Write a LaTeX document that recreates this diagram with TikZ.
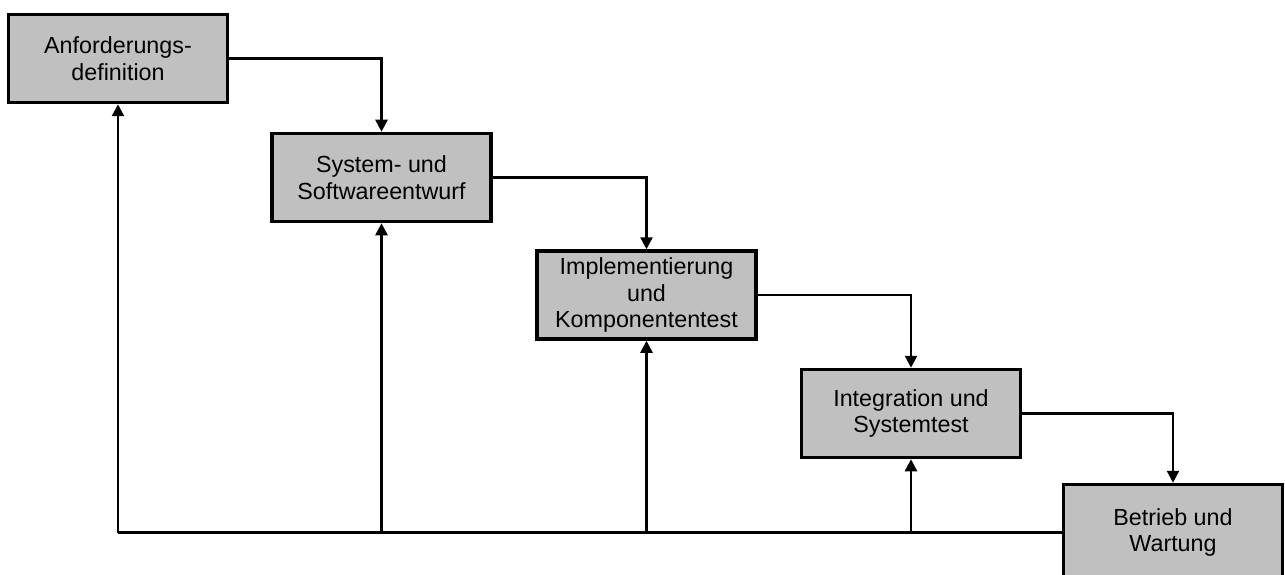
\documentclass[tikz,border=0pt]{standalone}
\usepackage{fontspec}
\setmainfont{Liberation Sans}
\usetikzlibrary{arrows.meta}
\definecolor{phasegray}{HTML}{C0C0C0}
\begin{document}
\begin{tikzpicture}[x=1pt,y=-1pt,
  phase/.style={draw=black, fill=phasegray, line width=3.5pt,
    minimum width=219pt, minimum height=88pt, inner sep=0pt,
    align=center, font=\fontsize{23.3}{26.7}\selectfont},
  flow/.style={line width=2.5pt, -{Triangle[length=12pt,width=12pt]}},
  link/.style={line width=2.5pt}]
  \useasboundingbox (0,0) rectangle (1285,575);

  % phases of the waterfall
  \node[phase] (b1) at (118,58.5)  {Anforderungs-\\definition};
  \node[phase] (b2) at (381.5,177.5) {System- und\\Softwareentwurf};
  \node[phase] (b3) at (646.5,295) {Implementierung\\und\\Komponententest};
  \node[phase] (b4) at (911,413.5) {Integration und\\Systemtest};
  \node[phase, minimum height=96pt] (b5) at (1173,532.5) {Betrieb und\\Wartung};

  % forward flow
  \draw[flow] (b1.east) -| (b2.north);
  \draw[flow] (b2.east) -| (b3.north);
  \draw[flow] (b3.east) -| (b4.north);
  \draw[flow] (b4.east) -| (b5.north);

  % feedback to earlier phases
  \coordinate (fb) at (b1 |- b5.west);
  \draw[link] (b5.west) -- (fb);
  \draw[flow] (fb) -- (b1.south);
  \draw[flow] (b2 |- b5.west) -- (b2.south);
  \draw[flow] (b3 |- b5.west) -- (b3.south);
  \draw[flow] (b4 |- b5.west) -- (b4.south);
\end{tikzpicture}
\end{document}
